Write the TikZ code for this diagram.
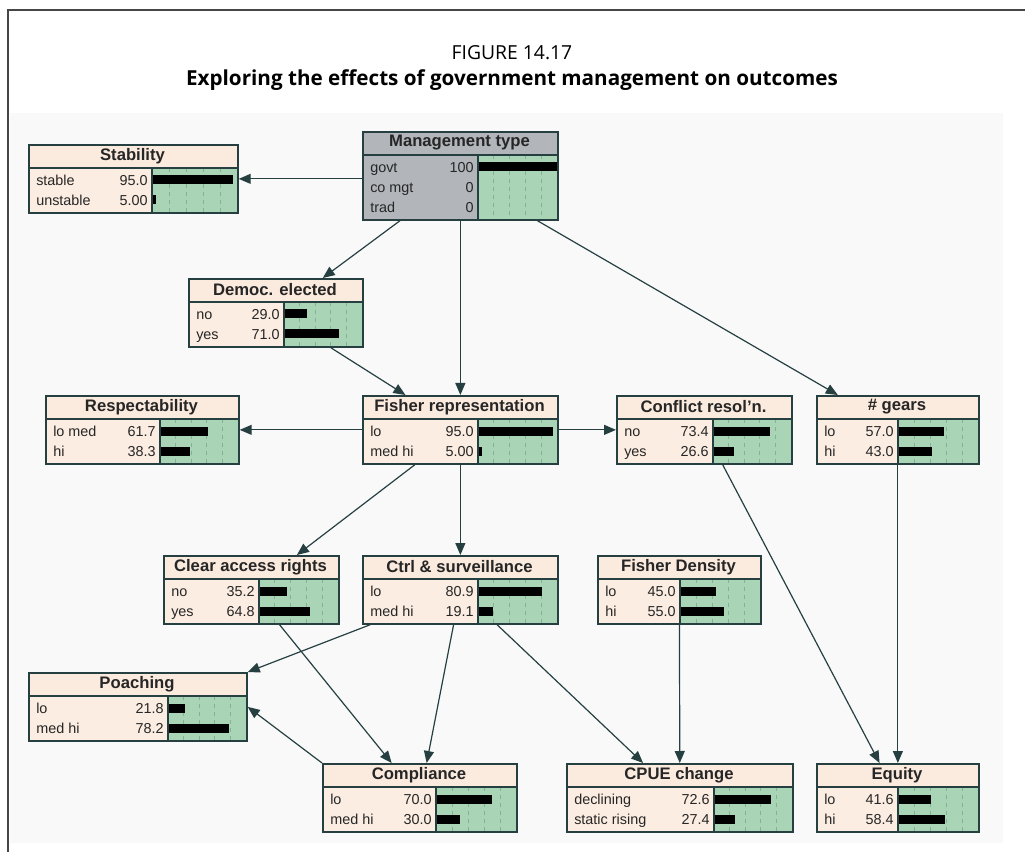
\documentclass[tikz,border=0pt]{standalone}
\usepackage{fontspec}
\setmainfont{Liberation Sans}
\newfontfamily\capfont{Open Sans}
\usepackage{xcolor}
\usepackage{tikz}
\usetikzlibrary{arrows.meta,positioning,calc}
\definecolor{bnpeach}{RGB}{252,237,226}
\definecolor{bnhead}{RGB}{251,234,222}
\definecolor{bngreen}{RGB}{170,212,182}
\definecolor{bnedge}{RGB}{38,64,66}
\definecolor{bngray}{RGB}{178,182,186}
\definecolor{bngridc}{RGB}{132,178,148}
\definecolor{bgpane}{RGB}{249,249,249}
\definecolor{framecol}{RGB}{70,70,70}
\tikzset{
  headfill/.style={fill=bnhead},
  labfill/.style={fill=bnpeach},
  barfill/.style={fill=bngreen},
  gridln/.style={bngridc, line width=0.5pt, dash pattern=on 3pt off 3pt},
  boxln/.style={draw=bnedge, line width=1.1pt},
  bnbox/.style={draw=bnedge, line width=1.3pt, inner sep=0pt, rectangle},
  bntitle/.style={font=\fontsize{12.5}{14}\selectfont\bfseries, text=black!85},
  bnstate/.style={font=\fontsize{10.8}{12}\selectfont, inner sep=0pt, text height=7.5pt, text depth=2pt, text=black!85},
  link/.style={-{Triangle[length=9pt,width=7.5pt]}, line width=0.9pt, bnedge},
}
% #1 name, #2 left, #3 top, #4 width, #5 label width, #6 rows, #7 title, #8 states
\newcommand{\bnnode}[8]{%
  \pgfmathsetmacro{\bnh}{28+20*#6}%
  \pgfmathsetmacro{\bnbw}{#4-#5}%
  \fill[headfill] (#2,#3) rectangle ++(#4,24);
  \fill[labfill] (#2,#3+24) rectangle ++(#5,\bnh-24);
  \fill[barfill] (#2+#5,#3+24) rectangle (#2+#4,#3+\bnh);
  \foreach \g in {0.2,0.4,0.6,0.8}
    \draw[gridln] (#2+#5+\g*\bnbw,#3+24) -- ++(0,\bnh-24);
  \foreach \lab/\val [count=\i] in {#8} {
    \node[bnstate, anchor=west] at (#2+8,#3+17.5+20*\i) {\lab};
    \node[bnstate, anchor=east] at (#2+#5-4,#3+17.5+20*\i) {\val};
    \fill (#2+#5,#3+11.5+20*\i) rectangle ++(\val/100*\bnbw,9);
  }
  \draw[boxln] (#2,#3+24) -- ++(#4,0) (#2+#5,#3+24) -- ++(0,\bnh-24);
  \node[bnbox, anchor=north west, minimum width=#4*0.75pt, minimum height=\bnh*0.75pt] (#1) at (#2,#3) {};
  \node[bntitle] at (#2+#4/2,#3+12) {#7};
}

\begin{document}
\begin{tikzpicture}[x=0.75pt,y=-0.75pt]
\useasboundingbox (0,0) rectangle (1025,852);
\fill[bgpane] (10,113) rectangle (1003,843);
\draw[framecol, line width=1.5pt] (8,852) -- (8,10) -- (1025,10);
\node[font=\capfont\fontsize{14.5}{16}\selectfont] (fignum) at (512,53) {FIGURE 14.17};
\node[font=\capfont\bfseries\fontsize{15.5}{18}\selectfont] (figtitle) at (512,80) {Exploring the effects of government management on outcomes};

% nodes
\begin{scope}[headfill/.style={fill=bngray}, labfill/.style={fill=bngray}]
\bnnode{mgmt}{362}{131}{195}{116}{3}{Management type}{govt/100, co mgt/0, trad/0}
\end{scope}
\bnnode{stab}{28}{144}{209}{124}{2}{Stability}{stable/95.0, unstable/5.00}
\bnnode{democ}{188}{278}{174}{96}{2}{Democ. elected}{no/29.0, yes/71.0}
\bnnode{resp}{45}{395}{193}{115}{2}{Respectability}{lo med/61.7, hi/38.3}
\bnnode{fishrep}{362}{395}{195}{116}{2}{Fisher representation}{lo/95.0, med hi/5.00}
\bnnode{conflict}{616}{395}{175}{97}{2}{Conflict resol'n.}{no/73.4, yes/26.6}
\bnnode{gears}{816}{395}{162}{82}{2}{\# gears}{lo/57.0, hi/43.0}
\bnnode{access}{163}{555}{175}{96}{2}{Clear access rights}{no/35.2, yes/64.8}
\bnnode{ctrl}{362}{555}{195}{116}{2}{Ctrl \& surveillance}{lo/80.9, med hi/19.1}
\bnnode{fdens}{597}{555}{163}{83}{2}{Fisher Density}{lo/45.0, hi/55.0}
\bnnode{poach}{28}{672}{218}{140}{2}{Poaching}{lo/21.8, med hi/78.2}
\bnnode{compl}{322}{763}{194}{114}{2}{Compliance}{lo/70.0, med hi/30.0}
\bnnode{cpue}{566}{763}{226}{148}{2}{CPUE change}{declining/72.6, static rising/27.4}
\bnnode{equity}{816}{763}{162}{82}{2}{Equity}{lo/41.6, hi/58.4}

% links
\draw[link] (mgmt.west |- stab.east) -- (stab.east);
\draw[link] (mgmt) -- (democ);
\draw[link] (mgmt) -- (fishrep);
\draw[link] (mgmt) -- (gears);
\draw[link] (democ) -- (fishrep);
\draw[link] (fishrep) -- (resp);
\draw[link] (fishrep) -- (conflict);
\draw[link] (fishrep) -- (access);
\draw[link] (fishrep) -- (ctrl);
\draw[link] (conflict) -- (equity);
\draw[link] (gears) -- (equity);
\draw[link] (fdens) -- (cpue);
\draw[link] (ctrl) -- (poach.north east);
\draw[link] (ctrl) -- (compl);
\draw[link] (ctrl) -- (cpue);
\draw[link] (access) -- (compl);
\draw[link] (compl.north west) -- (poach.east);
\end{tikzpicture}
\end{document}
